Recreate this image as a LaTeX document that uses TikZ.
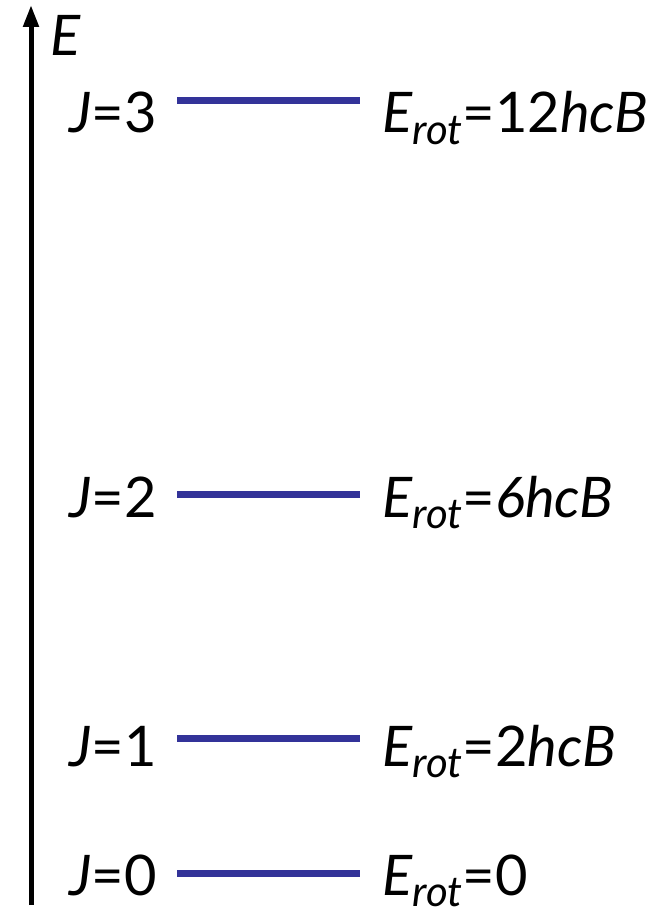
\documentclass[tikz,border=0pt]{standalone}
\usepackage{fontspec}
\setmainfont{Lato}
\usetikzlibrary{calc}
\usetikzlibrary{arrows.meta}
\tikzset{>=Stealth}
\definecolor{levelblue}{RGB}{51,51,153}

\begin{document}
\begin{tikzpicture}[x=1pt, y=-1pt,
	level/.style={draw=levelblue, line width=7pt},
	lbl/.style={font=\fontsize{56}{60}\selectfont, inner sep=0pt}]
\useasboundingbox (0,0) rectangle (662,912);

% energy axis
\coordinate (axis bottom) at (31,905);
\coordinate (axis top) at (31,5);
\draw [line width=5pt, -{Triangle[length=22pt, width=15pt]}] (axis bottom) -- (axis top);
\node [lbl, anchor=base west] (E) at (50,56) {\textit{E}};

% rotational levels
\foreach \j/\y/\d/\e in {0/873/22/0, 1/738/28/2\textit{hcB}, 2/494/23/\textit{6hcB}, 3/101/32/12\textit{hcB}} {
	\coordinate (L\j-a) at (177,\y);
	\coordinate (L\j-b) at (360,\y);
	\draw [level] (L\j-a) -- (L\j-b);
	\node [lbl, anchor=base east] (J\j) at ($(L\j-a) + (-20,\d)$) {\textit{J}=\j};
	\node [lbl, anchor=base west] (Erot\j) at ($(L\j-b) + (22,\d)$) {\textit{E}\raisebox{-0.2em}{\fontsize{42}{44}\selectfont\textit{rot}}=\e};
}
\end{tikzpicture}
\end{document}
